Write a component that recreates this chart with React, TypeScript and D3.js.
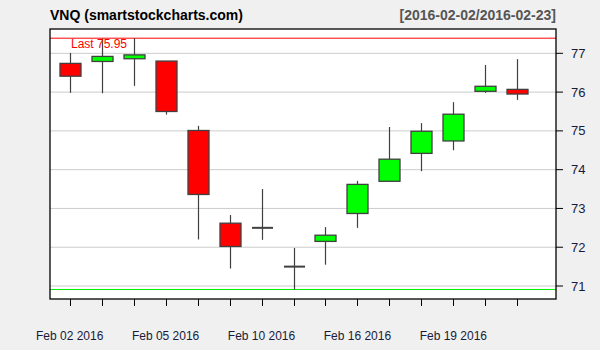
import React from "react";
import * as d3 from "d3";

const dates = ["2016-02-02","2016-02-03","2016-02-04","2016-02-05","2016-02-08","2016-02-09","2016-02-10","2016-02-11","2016-02-12","2016-02-16","2016-02-17","2016-02-18","2016-02-19","2016-02-22","2016-02-23"];
const opens = [76.74, 76.79, 76.86, 76.80, 75.01, 72.62, 72.50, 71.50, 72.15, 72.87, 73.70, 74.42, 74.74, 76.02, 76.07];
const highs = [77.01, 77.38, 77.39, 76.80, 75.13, 72.83, 73.50, 71.98, 72.52, 73.71, 75.10, 75.20, 75.74, 76.70, 76.85];
const lows = [75.98, 75.97, 76.16, 75.42, 72.20, 71.45, 72.19, 70.91, 71.55, 72.50, 73.69, 73.96, 74.50, 75.98, 75.80];
const closes = [76.41, 76.92, 76.96, 75.50, 73.36, 72.02, 72.50, 71.50, 72.31, 73.62, 74.27, 74.99, 75.43, 76.15, 75.95];
const yTicks = [71, 72, 73, 74, 75, 76, 77];
const xLabelIdx = [0, 3, 6, 9, 12];
const xLabels = ["Feb 02 2016", "Feb 05 2016", "Feb 10 2016", "Feb 16 2016", "Feb 19 2016"];
const title = "VNQ (smartstockcharts.com)";
const rangeLabel = "[2016-02-02/2016-02-23]";

export default function App() {
  const W = 600, H = 350;
  const L = 50, R = 556, T = 29, B = 299;
  const x = d3.scaleLinear().domain([0, 14]).range([69.7, 517.3]);
  const y = d3.scaleLinear().domain([70.665, 77.627]).range([B, T]);
  const maxHigh = d3.max(highs)!;
  const minLow = d3.min(lows)!;
  const last = closes[closes.length - 1];
  const bw = 21;
  const font = "Arial, 'Liberation Sans', sans-serif";
  return (
    <svg width={W} height={H} style={{ position: "absolute", left: 0, top: 0 }} fontFamily={font}>
      <rect x={0} y={0} width={W} height={H} fill="#f0f0f0" />
      <rect x={L} y={T} width={R - L} height={B - T} fill="#ffffff" />
      {yTicks.map((t) => (
        <line key={"g" + t} x1={L} x2={R} y1={y(t)} y2={y(t)} stroke="#cccccc" strokeWidth={1} />
      ))}
      <line x1={L} x2={R} y1={y(maxHigh)} y2={y(maxHigh)} stroke="#ff0000" strokeWidth={1} />
      <line x1={L} x2={R} y1={y(minLow)} y2={y(minLow)} stroke="#00ee00" strokeWidth={1} />
      {dates.map((d, i) => {
        const o = opens[i], c = closes[i];
        const cx = Math.round(x(i)) + 0.5;
        const top = y(Math.max(o, c));
        const bot = y(Math.min(o, c));
        const doji = Math.abs(o - c) < 0.005;
        const fill = c > o ? "#00ff00" : "#ff0000";
        return (
          <g key={d}>
            <line x1={cx} x2={cx} y1={y(highs[i])} y2={y(lows[i])} stroke="#404040" strokeWidth={1.2} />
            {doji ? (
              <line x1={cx - bw / 2} x2={cx + bw / 2} y1={top} y2={top} stroke="#404040" strokeWidth={2} />
            ) : (
              <rect x={cx - bw / 2} y={top} width={bw} height={Math.max(bot - top, 1)} fill={fill} stroke="#404040" strokeWidth={1.3} />
            )}
          </g>
        );
      })}
      <text x={71} y={47.5} fontSize={12} fill="#ff0000">{"Last " + last.toFixed(2)}</text>
      <rect x={L} y={T} width={R - L} height={B - T} fill="none" stroke="#000000" strokeWidth={1.3} />
      {yTicks.map((t) => (
        <g key={"t" + t}>
          <line x1={R} x2={R + 7} y1={y(t)} y2={y(t)} stroke="#000" strokeWidth={1} />
          <text x={571} y={y(t) + 4.5} fontSize={13} fill="#1a1a3a">{t}</text>
        </g>
      ))}
      {dates.map((d, i) => (
        <line key={"xt" + d} x1={Math.round(x(i)) + 0.5} x2={Math.round(x(i)) + 0.5} y1={B} y2={B + 7} stroke="#000" strokeWidth={1} />
      ))}
      {xLabelIdx.map((idx, k) => (
        <text key={"xl" + k} x={x(idx)} y={340} fontSize={12} textAnchor="middle" fill="#1a1a3a">{xLabels[k]}</text>
      ))}
      <text x={50} y={20} fontSize={14} fontWeight="bold" fill="#000">{title}</text>
      <text x={556} y={20} fontSize={14} fontWeight="bold" fill="#555555" textAnchor="end">{rangeLabel}</text>
    </svg>
  );
}
